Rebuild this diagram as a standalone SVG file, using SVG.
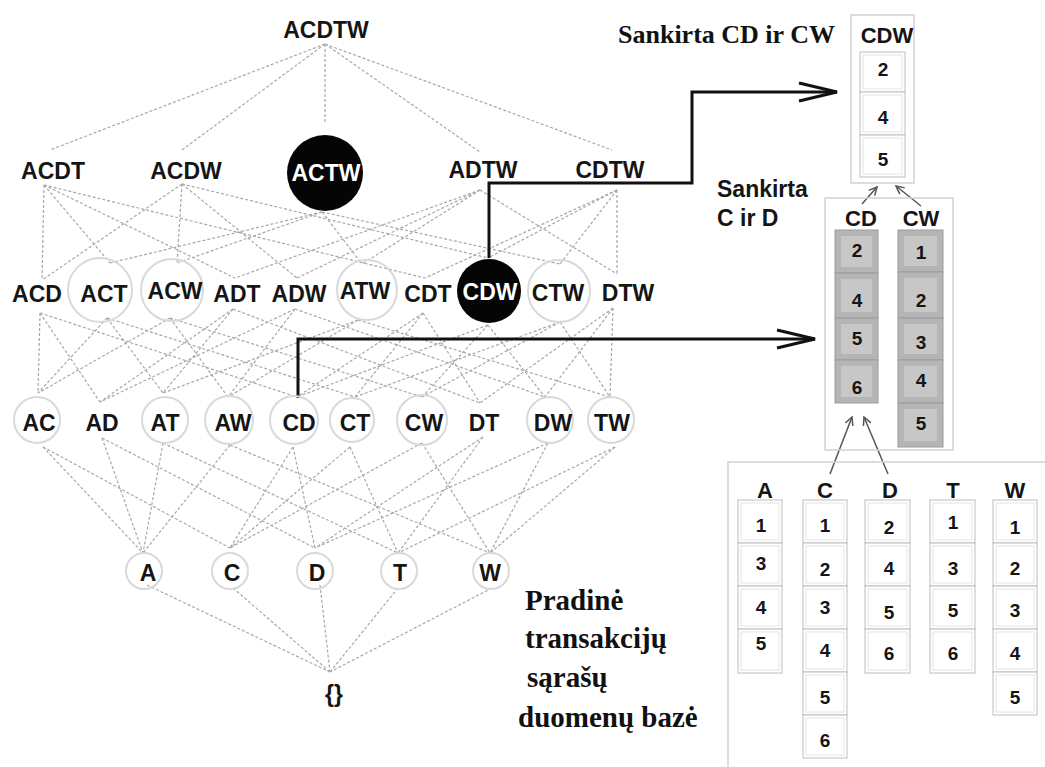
<svg xmlns="http://www.w3.org/2000/svg" width="1045" height="767" viewBox="0 0 1045 767">
  <style>
    .e { stroke:#a8a8a8; stroke-width:1.2; stroke-dasharray:3 2; fill:none }
    .ring { fill:none; stroke:#d9d9d9; stroke-width:2 }
    .lbl { font-family:"Liberation Sans",Arial,sans-serif; font-weight:bold; font-size:23px; text-anchor:middle; fill:#151515 }
    .inv { fill:#fff }
    .blob { fill:#050505 }
    .thick { stroke:#111; stroke-width:3; fill:none }
    .serif { font-family:"Liberation Serif","Times New Roman",serif; font-weight:bold; fill:#111 }
    .hdr { font-family:"Liberation Sans",Arial,sans-serif; font-weight:bold; font-size:22px; text-anchor:middle; fill:#151515 }
    .num { font-family:"Liberation Sans",Arial,sans-serif; font-weight:bold; font-size:19px; text-anchor:middle; fill:#151515 }
    .cell { fill:#fff; stroke:#bdbdbd; stroke-width:1 }
    .cin { fill:none; stroke:#e4e4e4; stroke-width:1 }
    .gcell { fill:#b5b5b5; stroke:#9c9c9c; stroke-width:1 }
    .gin { fill:#c7c7c7 }
    .box { fill:none; stroke:#d2d2d2; stroke-width:1.5 }
    .ptr { stroke:#555; stroke-width:1.5; fill:none; marker-end:url(#chev) }
  </style>
  <defs>
    <marker id="chev" viewBox="0 0 10 10" refX="9" refY="5" markerWidth="10" markerHeight="10" orient="auto" markerUnits="userSpaceOnUse">
      <path d="M1,1 L9,5 L1,9" fill="none" stroke="#555" stroke-width="1.5"/>
    </marker>
    <marker id="bigArrow" viewBox="0 0 41 22" refX="39" refY="11" markerWidth="41" markerHeight="22" orient="auto" markerUnits="userSpaceOnUse">
      <path d="M1,2 L39,11 L1,20" fill="none" stroke="#111" stroke-width="3"/>
    </marker>
  </defs>

  <rect width="1045" height="767" fill="#fff"/>

  <!-- lattice edges: each itemset linked to its subsets one level down -->
  <g id="connectors">
    <!-- ACDTW to 4-itemsets -->
    <line class="e" x1="325" y1="44" x2="50" y2="150"/>
    <line class="e" x1="325" y1="44" x2="182" y2="150"/>
    <line class="e" x1="325" y1="44" x2="325" y2="122"/>
    <line class="e" x1="325" y1="44" x2="480" y2="152"/>
    <line class="e" x1="325" y1="44" x2="612" y2="150"/>
    <!-- 4-itemsets to 3-itemsets -->
    <line class="e" x1="44" y1="185" x2="42" y2="280"/>
    <line class="e" x1="44" y1="185" x2="110" y2="263"/>
    <line class="e" x1="44" y1="185" x2="235" y2="278"/>
    <line class="e" x1="44" y1="185" x2="425" y2="278"/>
    <line class="e" x1="182" y1="184" x2="42" y2="280"/>
    <line class="e" x1="182" y1="184" x2="177" y2="263"/>
    <line class="e" x1="182" y1="184" x2="297" y2="278"/>
    <line class="e" x1="182" y1="184" x2="488" y2="258"/>
    <line class="e" x1="322" y1="212" x2="110" y2="263"/>
    <line class="e" x1="322" y1="212" x2="177" y2="263"/>
    <line class="e" x1="322" y1="212" x2="362" y2="264"/>
    <line class="e" x1="322" y1="212" x2="560" y2="264"/>
    <line class="e" x1="480" y1="190" x2="235" y2="278"/>
    <line class="e" x1="480" y1="190" x2="297" y2="278"/>
    <line class="e" x1="480" y1="190" x2="362" y2="264"/>
    <line class="e" x1="480" y1="190" x2="617" y2="274"/>
    <line class="e" x1="617" y1="190" x2="425" y2="278"/>
    <line class="e" x1="617" y1="190" x2="488" y2="258"/>
    <line class="e" x1="617" y1="190" x2="560" y2="264"/>
    <line class="e" x1="617" y1="190" x2="617" y2="274"/>
    <!-- 3-itemsets to 2-itemsets -->
    <line class="e" x1="40" y1="313" x2="38" y2="393"/>
    <line class="e" x1="40" y1="313" x2="100" y2="402"/>
    <line class="e" x1="40" y1="313" x2="297" y2="397"/>
    <line class="e" x1="107" y1="318" x2="38" y2="393"/>
    <line class="e" x1="107" y1="318" x2="163" y2="393"/>
    <line class="e" x1="107" y1="318" x2="355" y2="397"/>
    <line class="e" x1="170" y1="318" x2="38" y2="393"/>
    <line class="e" x1="170" y1="318" x2="228" y2="397"/>
    <line class="e" x1="170" y1="318" x2="422" y2="397"/>
    <line class="e" x1="233" y1="309" x2="100" y2="402"/>
    <line class="e" x1="233" y1="309" x2="163" y2="393"/>
    <line class="e" x1="233" y1="309" x2="480" y2="403"/>
    <line class="e" x1="295" y1="309" x2="100" y2="402"/>
    <line class="e" x1="295" y1="309" x2="228" y2="397"/>
    <line class="e" x1="295" y1="309" x2="545" y2="397"/>
    <line class="e" x1="358" y1="320" x2="163" y2="393"/>
    <line class="e" x1="358" y1="320" x2="228" y2="397"/>
    <line class="e" x1="358" y1="320" x2="610" y2="397"/>
    <line class="e" x1="423" y1="313" x2="297" y2="397"/>
    <line class="e" x1="423" y1="313" x2="355" y2="397"/>
    <line class="e" x1="423" y1="313" x2="480" y2="403"/>
    <line class="e" x1="488" y1="325" x2="297" y2="397"/>
    <line class="e" x1="488" y1="325" x2="422" y2="397"/>
    <line class="e" x1="488" y1="325" x2="545" y2="397"/>
    <line class="e" x1="560" y1="322" x2="355" y2="397"/>
    <line class="e" x1="560" y1="322" x2="422" y2="397"/>
    <line class="e" x1="560" y1="322" x2="610" y2="397"/>
    <line class="e" x1="613" y1="308" x2="480" y2="403"/>
    <line class="e" x1="613" y1="308" x2="545" y2="397"/>
    <line class="e" x1="613" y1="308" x2="610" y2="397"/>
    <!-- 2-itemsets to single items -->
    <line class="e" x1="43" y1="447" x2="143" y2="553"/>
    <line class="e" x1="43" y1="447" x2="230" y2="548"/>
    <line class="e" x1="102" y1="438" x2="143" y2="553"/>
    <line class="e" x1="102" y1="438" x2="315" y2="548"/>
    <line class="e" x1="163" y1="443" x2="143" y2="553"/>
    <line class="e" x1="163" y1="443" x2="398" y2="553"/>
    <line class="e" x1="230" y1="445" x2="143" y2="553"/>
    <line class="e" x1="230" y1="445" x2="490" y2="553"/>
    <line class="e" x1="293" y1="447" x2="230" y2="548"/>
    <line class="e" x1="293" y1="447" x2="315" y2="548"/>
    <line class="e" x1="350" y1="447" x2="230" y2="548"/>
    <line class="e" x1="350" y1="447" x2="398" y2="553"/>
    <line class="e" x1="422" y1="443" x2="230" y2="548"/>
    <line class="e" x1="422" y1="443" x2="490" y2="553"/>
    <line class="e" x1="483" y1="437" x2="315" y2="548"/>
    <line class="e" x1="483" y1="437" x2="398" y2="553"/>
    <line class="e" x1="548" y1="443" x2="315" y2="548"/>
    <line class="e" x1="548" y1="443" x2="490" y2="553"/>
    <line class="e" x1="615" y1="447" x2="398" y2="553"/>
    <line class="e" x1="615" y1="447" x2="490" y2="553"/>
    <!-- single items to the empty set -->
    <line class="e" x1="147" y1="585" x2="330" y2="672"/>
    <line class="e" x1="233" y1="588" x2="330" y2="672"/>
    <line class="e" x1="320" y1="585" x2="330" y2="672"/>
    <line class="e" x1="398" y1="588" x2="330" y2="672"/>
    <line class="e" x1="492" y1="588" x2="330" y2="672"/>

    <!-- tid-list pointers -->
    <path class="thick" d="M489,258 V183 H692 V92 H837" marker-end="url(#bigArrow)"/>
    <path class="thick" d="M298,398 V339 H815" marker-end="url(#bigArrow)"/>
    <line class="ptr" x1="862" y1="204" x2="877" y2="187"/>
    <line class="ptr" x1="921" y1="206" x2="896" y2="186"/>
    <line class="ptr" x1="830" y1="474" x2="852" y2="417"/>
    <line class="ptr" x1="888" y1="474" x2="864" y2="417"/>
  </g>

  <!-- lattice nodes -->
  <g id="n-ACDTW"><text class="lbl" x="326" y="38">ACDTW</text></g>

  <g id="n-ACDT"><text class="lbl" x="53" y="179">ACDT</text></g>
  <g id="n-ACDW"><text class="lbl" x="186" y="179">ACDW</text></g>
  <g id="n-ACTW"><circle class="blob" cx="325" cy="173" r="38"/><text class="lbl inv" x="326" y="181">ACTW</text></g>
  <g id="n-ADTW"><text class="lbl" x="483" y="178">ADTW</text></g>
  <g id="n-CDTW"><text class="lbl" x="610" y="178">CDTW</text></g>

  <g id="n-ACD"><text class="lbl" x="37" y="302">ACD</text></g>
  <g id="n-ACT"><circle class="ring" cx="100" cy="290" r="32"/><text class="lbl" x="104" y="302">ACT</text></g>
  <g id="n-ACW"><circle class="ring" cx="172" cy="290" r="31"/><text class="lbl" x="175" y="299">ACW</text></g>
  <g id="n-ADT"><text class="lbl" x="237" y="302">ADT</text></g>
  <g id="n-ADW"><text class="lbl" x="299" y="302">ADW</text></g>
  <g id="n-ATW"><circle class="ring" cx="367" cy="290" r="30"/><text class="lbl" x="365" y="299">ATW</text></g>
  <g id="n-CDT"><text class="lbl" x="428" y="302">CDT</text></g>
  <g id="n-CDW"><circle class="blob" cx="489" cy="291" r="32"/><text class="lbl inv" x="490" y="300">CDW</text></g>
  <g id="n-CTW"><circle class="ring" cx="559" cy="291" r="31"/><text class="lbl" x="558" y="301">CTW</text></g>
  <g id="n-DTW"><text class="lbl" x="628" y="301">DTW</text></g>

  <g id="n-AC"><circle class="ring" cx="37" cy="420" r="23"/><text class="lbl" x="39" y="431">AC</text></g>
  <g id="n-AD"><text class="lbl" x="102" y="431">AD</text></g>
  <g id="n-AT"><circle class="ring" cx="165" cy="420" r="23"/><text class="lbl" x="165" y="431">AT</text></g>
  <g id="n-AW"><circle class="ring" cx="229" cy="420" r="24"/><text class="lbl" x="233" y="431">AW</text></g>
  <g id="n-CD"><circle class="ring" cx="294" cy="420" r="24"/><text class="lbl" x="299" y="431">CD</text></g>
  <g id="n-CT"><circle class="ring" cx="352" cy="420" r="22"/><text class="lbl" x="355" y="431">CT</text></g>
  <g id="n-CW"><circle class="ring" cx="422" cy="420" r="25"/><text class="lbl" x="424" y="431">CW</text></g>
  <g id="n-DT"><text class="lbl" x="484" y="431">DT</text></g>
  <g id="n-DW"><circle class="ring" cx="550" cy="420" r="23"/><text class="lbl" x="553" y="431">DW</text></g>
  <g id="n-TW"><circle class="ring" cx="611" cy="420" r="23"/><text class="lbl" x="612" y="431">TW</text></g>

  <g id="n-A"><circle class="ring" cx="144" cy="571" r="18"/><text class="lbl" x="148" y="581">A</text></g>
  <g id="n-C"><circle class="ring" cx="230" cy="571" r="18"/><text class="lbl" x="232" y="581">C</text></g>
  <g id="n-D"><circle class="ring" cx="315" cy="571" r="18"/><text class="lbl" x="317" y="581">D</text></g>
  <g id="n-T"><circle class="ring" cx="399" cy="571" r="18"/><text class="lbl" x="400" y="581">T</text></g>
  <g id="n-W"><circle class="ring" cx="491" cy="571" r="18"/><text class="lbl" x="490" y="581">W</text></g>

  <g id="n-empty"><text class="lbl" x="334" y="702">{}</text></g>

  <!-- caption of the original database -->
  <g id="db-caption" class="serif" font-size="29">
    <text x="525" y="610">Pradinė</text>
    <text x="525" y="648">transakcijų</text>
    <text x="527" y="687">sąrašų</text>
    <text x="518" y="727">duomenų bazė</text>
  </g>

  <!-- result list for CDW -->
  <g id="tid-CDW">
    <text class="serif" x="618" y="43" font-size="26">Sankirta CD ir CW</text>
    <rect class="box" x="851" y="15" width="63" height="168"/>
    <text class="hdr" x="887" y="43" font-size="21">CDW</text>
    <rect class="cell" x="860" y="52" width="45" height="40"/><rect class="cin" x="863" y="55" width="39" height="34"/>
    <rect class="cell" x="860" y="92" width="45" height="43"/><rect class="cin" x="863" y="95" width="39" height="37"/>
    <rect class="cell" x="860" y="135" width="45" height="42"/><rect class="cin" x="863" y="138" width="39" height="36"/>
    <text class="num" x="883" y="76">2</text>
    <text class="num" x="883" y="124">4</text>
    <text class="num" x="883" y="166">5</text>
  </g>

  <!-- intermediate lists for CD and CW -->
  <g id="tid-CD-CW">
    <text class="lbl" x="717" y="197" font-size="22" style="text-anchor:start">Sankirta</text>
    <text class="lbl" x="717" y="226" font-size="22" style="text-anchor:start">C  ir  D</text>
    <rect class="box" x="825" y="198" width="128" height="252"/>
    <text class="hdr" x="861" y="226">CD</text>
    <text class="hdr" x="921" y="226">CW</text>
    <rect class="gcell" x="835" y="230" width="43" height="43"/><rect class="gin" x="841" y="236" width="31" height="31"/>
    <rect class="gcell" x="835" y="273" width="43" height="45"/><rect class="gin" x="841" y="279" width="31" height="33"/>
    <rect class="gcell" x="835" y="318" width="43" height="42"/><rect class="gin" x="841" y="324" width="31" height="30"/>
    <rect class="gcell" x="835" y="360" width="43" height="43"/><rect class="gin" x="841" y="366" width="31" height="31"/>
    <text class="num" x="857" y="257">2</text>
    <text class="num" x="857" y="307">4</text>
    <text class="num" x="857" y="345">5</text>
    <text class="num" x="857" y="394">6</text>
    <rect class="gcell" x="898" y="230" width="45" height="42"/><rect class="gin" x="904" y="236" width="33" height="30"/>
    <rect class="gcell" x="898" y="272" width="45" height="46"/><rect class="gin" x="904" y="278" width="33" height="34"/>
    <rect class="gcell" x="898" y="318" width="45" height="42"/><rect class="gin" x="904" y="324" width="33" height="30"/>
    <rect class="gcell" x="898" y="360" width="45" height="43"/><rect class="gin" x="904" y="366" width="33" height="31"/>
    <rect class="gcell" x="898" y="403" width="45" height="44"/><rect class="gin" x="904" y="409" width="33" height="32"/>
    <text class="num" x="921" y="259">1</text>
    <text class="num" x="921" y="307">2</text>
    <text class="num" x="921" y="349">3</text>
    <text class="num" x="921" y="387">4</text>
    <text class="num" x="921" y="430">5</text>
  </g>

  <!-- vertical database: one tid list per item -->
  <g id="vertical-db">
    <rect class="box" x="728" y="462" width="340" height="320"/>
    <text class="hdr" x="765" y="498">A</text>
    <text class="hdr" x="825" y="498">C</text>
    <text class="hdr" x="890" y="498">D</text>
    <text class="hdr" x="953" y="498">T</text>
    <text class="hdr" x="1015" y="498">W</text>

    <g id="col-A">
      <rect class="cell" x="738" y="500" width="44" height="43"/><rect class="cin" x="741" y="503" width="38" height="37"/>
      <rect class="cell" x="738" y="543" width="44" height="43"/><rect class="cin" x="741" y="546" width="38" height="37"/>
      <rect class="cell" x="738" y="586" width="44" height="43"/><rect class="cin" x="741" y="589" width="38" height="37"/>
      <rect class="cell" x="738" y="629" width="44" height="44"/><rect class="cin" x="741" y="632" width="38" height="38"/>
      <text class="num" x="761" y="532">1</text>
      <text class="num" x="761" y="570">3</text>
      <text class="num" x="761" y="614">4</text>
      <text class="num" x="761" y="650">5</text>
    </g>
    <g id="col-C">
      <rect class="cell" x="803" y="500" width="44" height="43"/><rect class="cin" x="806" y="503" width="38" height="37"/>
      <rect class="cell" x="803" y="543" width="44" height="43"/><rect class="cin" x="806" y="546" width="38" height="37"/>
      <rect class="cell" x="803" y="586" width="44" height="43"/><rect class="cin" x="806" y="589" width="38" height="37"/>
      <rect class="cell" x="803" y="629" width="44" height="43"/><rect class="cin" x="806" y="632" width="38" height="37"/>
      <rect class="cell" x="803" y="672" width="44" height="43"/><rect class="cin" x="806" y="675" width="38" height="37"/>
      <rect class="cell" x="803" y="715" width="44" height="43"/><rect class="cin" x="806" y="718" width="38" height="37"/>
      <text class="num" x="825" y="532">1</text>
      <text class="num" x="825" y="576">2</text>
      <text class="num" x="825" y="614">3</text>
      <text class="num" x="825" y="657">4</text>
      <text class="num" x="825" y="704">5</text>
      <text class="num" x="825" y="747">6</text>
    </g>
    <g id="col-D">
      <rect class="cell" x="865" y="500" width="45" height="43"/><rect class="cin" x="868" y="503" width="39" height="37"/>
      <rect class="cell" x="865" y="543" width="45" height="43"/><rect class="cin" x="868" y="546" width="39" height="37"/>
      <rect class="cell" x="865" y="586" width="45" height="43"/><rect class="cin" x="868" y="589" width="39" height="37"/>
      <rect class="cell" x="865" y="629" width="45" height="44"/><rect class="cin" x="868" y="632" width="39" height="38"/>
      <text class="num" x="889" y="534">2</text>
      <text class="num" x="889" y="575">4</text>
      <text class="num" x="889" y="619">5</text>
      <text class="num" x="889" y="660">6</text>
    </g>
    <g id="col-T">
      <rect class="cell" x="930" y="500" width="45" height="43"/><rect class="cin" x="933" y="503" width="39" height="37"/>
      <rect class="cell" x="930" y="543" width="45" height="43"/><rect class="cin" x="933" y="546" width="39" height="37"/>
      <rect class="cell" x="930" y="586" width="45" height="43"/><rect class="cin" x="933" y="589" width="39" height="37"/>
      <rect class="cell" x="930" y="629" width="45" height="44"/><rect class="cin" x="933" y="632" width="39" height="38"/>
      <text class="num" x="953" y="529">1</text>
      <text class="num" x="953" y="575">3</text>
      <text class="num" x="953" y="617">5</text>
      <text class="num" x="953" y="660">6</text>
    </g>
    <g id="col-W">
      <rect class="cell" x="993" y="500" width="44" height="43"/><rect class="cin" x="996" y="503" width="38" height="37"/>
      <rect class="cell" x="993" y="543" width="44" height="43"/><rect class="cin" x="996" y="546" width="38" height="37"/>
      <rect class="cell" x="993" y="586" width="44" height="43"/><rect class="cin" x="996" y="589" width="38" height="37"/>
      <rect class="cell" x="993" y="629" width="44" height="43"/><rect class="cin" x="996" y="632" width="38" height="37"/>
      <rect class="cell" x="993" y="672" width="44" height="43"/><rect class="cin" x="996" y="675" width="38" height="37"/>
      <text class="num" x="1015" y="534">1</text>
      <text class="num" x="1015" y="575">2</text>
      <text class="num" x="1015" y="617">3</text>
      <text class="num" x="1015" y="660">4</text>
      <text class="num" x="1015" y="704">5</text>
    </g>
  </g>
</svg>
